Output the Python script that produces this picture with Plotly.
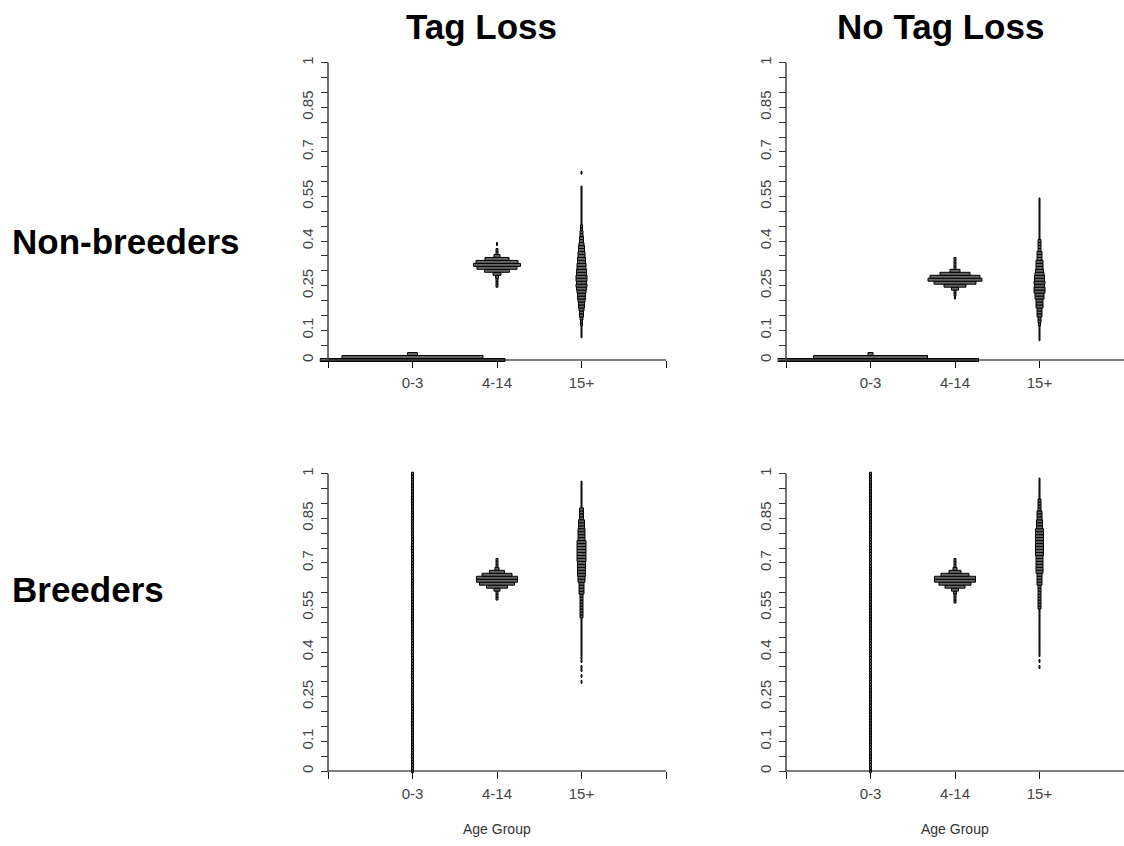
import plotly.graph_objects as go

# ---------------- data ----------------
AGE_GROUPS = ["0-3", "4-14", "15+"]
COLUMN_TITLES = ["Tag Loss", "No Tag Loss"]
ROW_TITLES = ["Non-breeders", "Breeders"]
X_TITLE = "Age Group"
X_TICKS = [0, 1, 2, 3, 4]
X_TICK_LABELS = ["", "0-3", "4-14", "15+", ""]
Y_TICKS = [0, 0.05, 0.1, 0.15, 0.2, 0.25, 0.3, 0.35, 0.4, 0.45, 0.5,
           0.55, 0.6, 0.65, 0.7, 0.75, 0.8, 0.85, 0.9, 0.95, 1]
Y_TICK_LABELS = ["0", "", "0.1", "", "", "0.25", "", "", "0.4", "", "",
                 "0.55", "", "", "0.7", "", "", "0.85", "", "", "1"]

BIN = 0.01  # histogram bin height (probability units)

# Histogram densities (relative bar widths) for each bin, starting at the given value
# Tag Loss, Non-breeders
TL_NB_03_START = 0.00
TL_NB_03 = [185, 141, 10]
TL_NB_414_START = 0.25
TL_NB_414 = [2, 2, 2, 3, 8, 25, 40, 47, 42, 24, 6, 2, 2, 0, 1]
TL_NB_15_START = 0.08
TL_NB_15 = [1, 1, 1, 1, 2, 2, 3, 4, 4, 5, 6, 6, 7, 8, 8, 9, 10, 11, 10, 11,
            11, 10, 10, 9, 9, 8, 8, 7, 7, 6, 6, 5, 4, 4, 3, 3, 2, 2, 1, 1,
            1, 1, 1, 1, 1, 1, 1, 1, 1, 1, 1, 0, 0, 0, 0, 1]
# No Tag Loss, Non-breeders
NTL_NB_03_START = 0.00
NTL_NB_03 = [216, 114, 5]
NTL_NB_414_START = 0.21
NTL_NB_414 = [1, 2, 2, 7, 22, 42, 54, 50, 30, 10, 2, 2, 2, 2]
NTL_NB_15_START = 0.07
NTL_NB_15 = [1, 1, 1, 1, 1, 2, 3, 3, 5, 5, 5, 7, 7, 7, 9, 9, 11, 11, 10, 11,
             10, 10, 9, 8, 7, 7, 7, 5, 5, 5, 3, 3, 3, 3, 1, 1, 1, 1, 1, 1,
             1, 1, 1, 1, 1, 1, 1, 1]
# Tag Loss, Breeders
TL_B_03_START = 0.00
TL_B_03 = [2, 2, 2, 2, 2, 2, 2, 2, 2, 2, 2, 2, 2, 2, 2, 2, 2, 2, 2, 2,
           2, 2, 2, 2, 2, 2, 2, 2, 2, 2, 2, 2, 2, 2, 2, 2, 2, 2, 2, 2,
           2, 2, 2, 2, 2, 2, 2, 2, 2, 2, 2, 2, 2, 2, 2, 2, 2, 2, 2, 2,
           2, 2, 2, 2, 2, 2, 2, 2, 2, 2, 2, 2, 2, 2, 2, 2, 2, 2, 2, 2,
           2, 2, 2, 2, 2, 2, 2, 2, 2, 2, 2, 2, 2, 2, 2, 2, 2, 2, 2, 2, 2]
TL_B_414_START = 0.58
TL_B_414 = [2, 2, 2, 6, 21, 35, 41, 41, 30, 15, 4, 2, 2, 2]
TL_B_15_START = 0.30
TL_B_15 = [1, 0, 1, 0, 1, 1, 0, 1, 1, 1, 1, 1, 1, 1, 1, 1, 1, 1, 1, 1,
           1, 1, 3, 3, 3, 3, 3, 3, 3, 3, 5, 5, 5, 5, 7, 7, 8, 8, 8, 8,
           8, 9, 9, 9, 9, 9, 9, 9, 7, 7, 7, 7, 6, 6, 6, 4, 4, 4, 4, 1,
           1, 1, 1, 1, 1, 1, 1, 1]
# No Tag Loss, Breeders
NTL_B_03_START = 0.00
NTL_B_03 = [2, 2, 2, 2, 2, 2, 2, 2, 2, 2, 2, 2, 2, 2, 2, 2, 2, 2, 2, 2,
            2, 2, 2, 2, 2, 2, 2, 2, 2, 2, 2, 2, 2, 2, 2, 2, 2, 2, 2, 2,
            2, 2, 2, 2, 2, 2, 2, 2, 2, 2, 2, 2, 2, 2, 2, 2, 2, 2, 2, 2,
            2, 2, 2, 2, 2, 2, 2, 2, 2, 2, 2, 2, 2, 2, 2, 2, 2, 2, 2, 2,
            2, 2, 2, 2, 2, 2, 2, 2, 2, 2, 2, 2, 2, 2, 2, 2, 2, 2, 2, 2, 2]
NTL_B_414_START = 0.57
NTL_B_414 = [2, 2, 2, 3, 7, 20, 32, 41, 41, 28, 12, 4, 2, 2, 2]
NTL_B_15_START = 0.35
NTL_B_15 = [1, 0, 1, 0, 1, 1, 1, 1, 1, 1, 1, 1, 1, 1, 1, 1, 1, 1, 1, 1,
            3, 3, 3, 3, 3, 3, 3, 3, 5, 5, 5, 5, 7, 7, 7, 7, 7, 7, 8, 8,
            8, 8, 8, 8, 8, 8, 8, 6, 6, 6, 5, 5, 5, 3, 3, 3, 3, 1, 1, 1,
            1, 1, 1, 1]

PANELS = [
    [(TL_NB_03_START, TL_NB_03), (TL_NB_414_START, TL_NB_414), (TL_NB_15_START, TL_NB_15)],
    [(NTL_NB_03_START, NTL_NB_03), (NTL_NB_414_START, NTL_NB_414), (NTL_NB_15_START, NTL_NB_15)],
    [(TL_B_03_START, TL_B_03), (TL_B_414_START, TL_B_414), (TL_B_15_START, TL_B_15)],
    [(NTL_B_03_START, NTL_B_03), (NTL_B_414_START, NTL_B_414), (NTL_B_15_START, NTL_B_15)],
]

# ---------------- layout geometry (pixels) ----------------
W, H = 1124, 846
XUNIT = 84.5          # px per category step
YUNIT = 297.3         # px per probability unit
COL_X0 = [328, 786]   # pixel x of x=0 (y-axis) for each column
ROW_Y0 = [360, 771]   # pixel y of y=0 (x-axis) for each row
XMIN = -0.1
YMIN, YMAX = -0.02, 1.02
DENS_SCALE = 1.0 / XUNIT

FONT = "Arial, Liberation Sans, sans-serif"

fig = go.Figure()

for p, groups in enumerate(PANELS):
    r, c = divmod(p, 2)
    sfx = "" if p == 0 else str(p + 1)
    for gi, (start, dens) in enumerate(groups):
        cat = gi + 1
        ys, ws, bases = [], [], []
        for i, d in enumerate(dens):
            if d <= 0:
                continue
            w = d * DENS_SCALE
            ys.append(round(start + i * BIN, 4))
            ws.append(w)
            bases.append(cat - w / 2)
        fig.add_trace(go.Bar(
            y=ys, x=ws, base=bases, orientation="h", width=BIN,
            marker=dict(color="#666666", line=dict(color="black", width=1)),
            xaxis="x" + sfx, yaxis="y" + sfx, showlegend=False,
            hoverinfo="skip",
        ))

    x0 = COL_X0[c]
    y0 = ROW_Y0[r]
    xmax = min(4.05, (W - x0) / XUNIT)
    xd = [(x0 + XMIN * XUNIT) / W, (x0 + xmax * XUNIT) / W]
    yd = [(H - (y0 - YMIN * YUNIT)) / H, (H - (y0 - YMAX * YUNIT)) / H]
    fig.layout["xaxis" + sfx] = dict(
        domain=xd, range=[XMIN, xmax], anchor="free", position=(H - y0) / H,
        tickvals=X_TICKS, ticktext=X_TICK_LABELS, ticks="outside", ticklen=7,
        tickcolor="black", showline=False, showgrid=False, zeroline=False,
        tickfont=dict(family=FONT, size=15, color="#444"), ticklabelstandoff=2,
        fixedrange=True,
    )
    fig.layout["yaxis" + sfx] = dict(
        domain=yd, range=[YMIN, YMAX], anchor="free", position=x0 / W,
        tickvals=Y_TICKS, ticktext=Y_TICK_LABELS, ticks="outside", ticklen=7,
        tickangle=-90, tickcolor="#333", showline=False, showgrid=False,
        zeroline=False, tickfont=dict(family=FONT, size=15, color="#444"),
        ticklabelstandoff=2, fixedrange=True,
    )
    xr, yr = "x" + sfx, "y" + sfx
    fig.add_shape(type="line", xref=xr, yref=yr, x0=0, x1=4, y0=0, y1=0,
                  line=dict(color="black", width=1), layer="above")
    fig.add_shape(type="line", xref=xr, yref=yr, x0=0, x1=0, y0=0, y1=1,
                  line=dict(color="#444", width=1.5), layer="above")

annotations = []
for c, (title, cx) in enumerate(zip(COLUMN_TITLES, [481.5, 940])):
    annotations.append(dict(text=title, x=cx / W, y=(H - 26) / H, xref="paper", yref="paper",
                            xanchor="center", yanchor="middle", showarrow=False,
                            font=dict(family=FONT, size=35, color="black", weight=700)))
for r, (title, cy) in enumerate(zip(ROW_TITLES, [241, 589])):
    annotations.append(dict(text=title, x=10 / W, y=(H - cy) / H, xref="paper", yref="paper",
                            xanchor="left", yanchor="middle", showarrow=False,
                            font=dict(family=FONT, size=35, color="black", weight=700)))
for cx in [497, 955]:
    annotations.append(dict(text=X_TITLE, x=cx / W, y=(H - 829) / H, xref="paper", yref="paper",
                            xanchor="center", yanchor="middle", showarrow=False,
                            font=dict(family=FONT, size=14, color="#333")))

fig.update_layout(
    width=W, height=H, autosize=False,
    margin=dict(l=0, r=0, t=0, b=0, pad=0),
    paper_bgcolor="white", plot_bgcolor="white",
    barmode="overlay", showlegend=False, annotations=annotations,
)

fig.write_html("out.html", config={"displayModeBar": False},
               post_script="document.body.style.margin='0';document.body.style.overflow='hidden';")
